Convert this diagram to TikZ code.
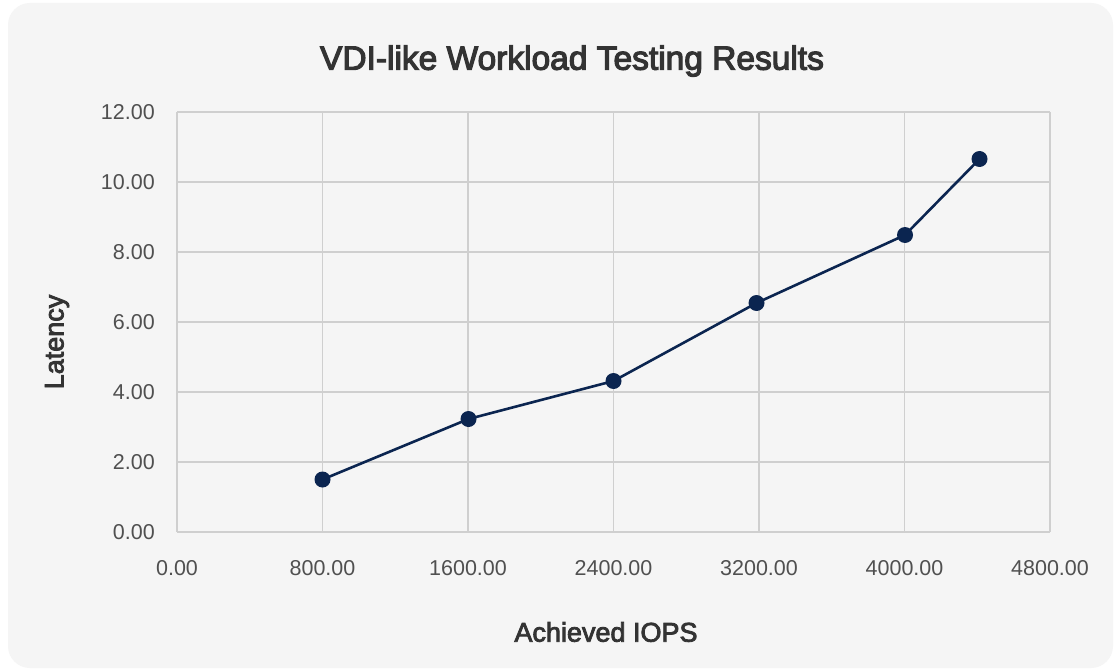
\documentclass[tikz,border=0pt]{standalone}
\usepackage{fontspec}
\setmainfont{Liberation Sans}
\newfontfamily\medfont[FakeBold=3.5]{Liberation Sans}
\newfontfamily\axfont[FakeBold=3]{Liberation Sans}
\definecolor{cardbg}{HTML}{F5F5F5}
\definecolor{gridc}{HTML}{CFCFCF}
\definecolor{navy}{HTML}{0B2550}
\definecolor{titlec}{HTML}{333333}
\definecolor{tickc}{HTML}{505050}
\tikzset{
  gridline/.style={draw=gridc, line width=1.4pt},
  series/.style={draw=navy, line width=2.6pt, line join=round},
  dot/.style={circle, fill=navy, inner sep=0pt, minimum size=16pt},
  ytick/.style={anchor=east, text=tickc, font=\fontsize{21.5}{24}\selectfont, inner sep=0pt},
  xtick/.style={anchor=center, text=tickc, font=\fontsize{21.5}{24}\selectfont, inner sep=0pt},
  axtitle/.style={text=titlec, font=\axfont\fontsize{27}{30}\selectfont, inner sep=0pt},
}
\begin{document}
\begin{tikzpicture}[x=1pt, y=-1pt]
  \useasboundingbox (0,0) rectangle (1115,671);
  \fill[white] (0,0) rectangle (1115,671);
  \fill[cardbg, rounded corners=22pt] (8,3) rectangle (1113,668);
  % title
  \node[text=titlec, font=\medfont\fontsize{33.5}{36}\selectfont, inner sep=0pt] (title) at (572,61) {VDI-like Workload Testing Results};
  % grid
  \foreach \yy in {112,182,252,322,392,462,532} {
    \draw[gridline] (177,\yy) -- (1050,\yy);
  }
  \foreach \xx in {177,322.5,468,613.5,759,904.5,1050} {
    \draw[gridline] (\xx,112) -- (\xx,532);
  }
  % y tick labels
  \foreach \yy/\lab in {112/12.00,182/10.00,252/8.00,322/6.00,392/4.00,462/2.00,532/0.00} {
    \node[ytick] at (155,\yy) {\lab};
  }
  % x tick labels
  \foreach \xx/\lab in {177/0.00,322.5/800.00,468/1600.00,613.5/2400.00,759/3200.00,904.5/4000.00,1050/4800.00} {
    \node[xtick] at (\xx,568) {\lab};
  }
  % axis titles
  \node[axtitle, rotate=90] (ylab) at (57,342) {Latency};
  \node[axtitle] (xlab) at (606,632) {Achieved IOPS};
  % series
  \coordinate (c1) at (322.5,479.5);
  \coordinate (c2) at (468.5,419);
  \coordinate (c3) at (613.5,381);
  \coordinate (c4) at (756.5,303);
  \coordinate (c5) at (905,235);
  \coordinate (c6) at (979.5,159);
  \draw[series] (c1) -- (c2) -- (c3) -- (c4) -- (c5) -- (c6);
  \node[dot] (p1) at (c1) {};
  \node[dot] (p2) at (c2) {};
  \node[dot] (p3) at (c3) {};
  \node[dot] (p4) at (c4) {};
  \node[dot] (p5) at (c5) {};
  \node[dot] (p6) at (c6) {};
\end{tikzpicture}
\end{document}
